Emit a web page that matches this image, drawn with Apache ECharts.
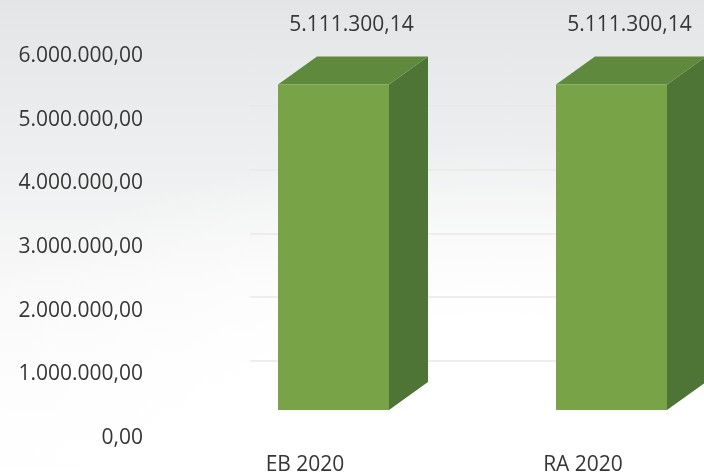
<!DOCTYPE html>
<html>
<head>
<meta charset="utf-8">
<script src="https://cdn.jsdelivr.net/npm/echarts@6/dist/echarts.min.js"></script>
<style>
html,body{margin:0;padding:0;}
#chart{width:704px;height:476px;
background:
 radial-gradient(ellipse 90% 70% at 70% 100%, rgba(255,255,255,1) 0%, rgba(255,255,255,1) 45%, rgba(255,255,255,0) 100%),
 linear-gradient(180deg, #e3e5e7 0%, #eceeef 30%, #f8f8f8 60%, #ffffff 100%);}
</style>
</head>
<body>
<div id="chart"></div>
<script>
const categories = ['EB 2020', 'RA 2020'];
const values = [5111300.14, 5111300.14];
const tickMin = 0, tickMax = 6000000, tickStep = 1000000;

function fmt(v) {
  const neg = v < 0; v = Math.abs(v);
  const parts = v.toFixed(2).split('.');
  const int = parts[0].replace(/\B(?=(\d{3})+(?!\d))/g, '.');
  return (neg ? '-' : '') + int + ',' + parts[1];
}

const FONT = '"Open Sans", sans-serif';
const TXT = '#363636';
const FS = 21;
const chart = echarts.init(document.getElementById('chart'));

const FRONT = '#78a447', TOP = '#5f8a3d', SIDE = '#4f7536';
const SHIFT_X = 28.5, SHIFT_Y = -25, HW = 55.5, DX = 39, DY = -28;

chart.setOption({
  animation: false,
  grid: [
    { left: 166, width: 556, top: 53, bottom: 41, outerBoundsMode: 'none', containLabel: false },
    { left: 250, right: 0, top: 42.5, bottom: 51.5 }
  ],
  xAxis: [
    { type: 'category', gridIndex: 0, data: categories,
      axisLine: { show: false }, axisTick: { show: false },
      axisLabel: { margin: 20, color: TXT, fontFamily: FONT, fontSize: FS } },
    { type: 'category', gridIndex: 1, data: categories, show: false }
  ],
  yAxis: [
    { type: 'value', gridIndex: 0, min: tickMin, max: tickMax, interval: tickStep,
      axisLine: { show: false }, axisTick: { show: false }, splitLine: { show: false },
      axisLabel: { margin: 23, color: TXT, fontFamily: FONT, fontSize: FS, formatter: fmt,
        verticalAlign: 'top', lineHeight: 6 } },
    { type: 'value', gridIndex: 1, min: tickMin, max: tickMax, interval: tickStep,
      axisLine: { show: false }, axisTick: { show: false }, axisLabel: { show: false },
      splitLine: { show: true, showMinLine: false, showMaxLine: false, lineStyle: { color: '#e9e9e9', width: 1.5 } } }
  ],
  series: [{
    type: 'custom',
    xAxisIndex: 0, yAxisIndex: 0,
    clip: false,
    data: values.map((v, i) => [i, v]),
    renderItem: function (params, api) {
      const base = api.coord([api.value(0), 0]);
      const topP = api.coord([api.value(0), api.value(1)]);
      const cx = base[0] + SHIFT_X;
      const y0 = base[1] + SHIFT_Y;
      const y1 = topP[1] + SHIFT_Y;
      const l = cx - HW, r = cx + HW;
      return {
        type: 'group',
        children: [
          { type: 'polygon', shape: { points: [[r, y1], [r + DX, y1 + DY], [r + DX, y0 + DY], [r, y0]] },
            style: { fill: SIDE } },
          { type: 'polygon', shape: { points: [[l, y1], [l + DX, y1 + DY], [r + DX, y1 + DY], [r, y1]] },
            style: { fill: TOP } },
          { type: 'rect', shape: { x: l, y: y1, width: r - l, height: y0 - y1 },
            style: { fill: FRONT } },
          { type: 'text', x: cx + 18, y: y1 + DY - 32,
            style: { text: fmt(api.value(1)), fill: TXT, font: FS + 'px ' + FONT,
              textAlign: 'center', textVerticalAlign: 'middle' } }
        ]
      };
    }
  }]
});
</script>
</body>
</html>
